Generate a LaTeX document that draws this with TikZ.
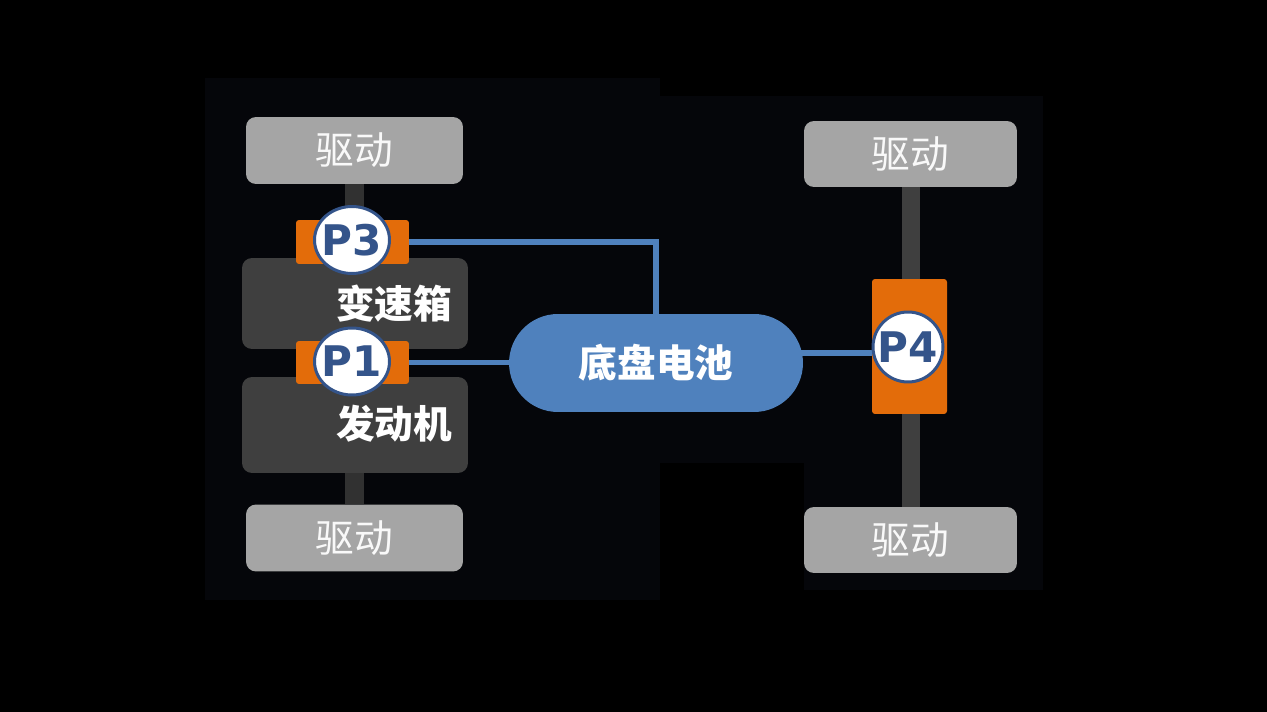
\documentclass[tikz,border=0pt]{standalone}
\usepackage{fontspec}
\newfontfamily\cjk{Noto Sans CJK SC}
\newfontfamily\pfont{DejaVu Sans}
\usepackage{tikz}
\usetikzlibrary{backgrounds,shapes.geometric}

\definecolor{bgpanel}{HTML}{05060A}
\definecolor{drivegray}{HTML}{A5A5A5}
\definecolor{unitgray}{HTML}{3F3F3F}
\definecolor{shaftgray}{HTML}{313131}
\definecolor{motororange}{HTML}{E36C0A}
\definecolor{battblue}{HTML}{4F81BD}
\definecolor{pblue}{HTML}{34548A}

\pgfdeclarelayer{panel}
\pgfsetlayers{panel,background,main}

\begin{document}
\begin{tikzpicture}[
    x=0.02cm, y=-0.02cm,
    drivebox/.style={fill=drivegray, rounded corners=0.2cm, minimum width=4.34cm,
        minimum height=1.34cm, text=white!95!gray, font=\cjk\fontsize{22}{26}\selectfont},
    unitbox/.style={fill=unitgray, rounded corners=0.2cm, minimum width=4.52cm},
    unitlabel/.style={text=white, font=\cjk\bfseries\fontsize{22}{26}\selectfont},
    motorbox/.style={fill=motororange, rounded corners=0.06cm},
    pmark/.style={ellipse, fill=white, draw=pblue, line width=1.7pt, inner sep=-8pt,
        text=pblue, font=\pfont\bfseries\fontsize{24}{28}\selectfont},
    link/.style={draw=battblue, line width=3.3pt},
    shaft/.style={draw=shaftgray, line width=0.38cm}
]
\useasboundingbox (0,0) rectangle (1267,712);
\begin{pgfonlayer}{panel}
\fill[black] (0,0) rectangle (1267,712);
\fill[bgpanel] (205,78) rectangle (660,600);
\fill[bgpanel] (660,96) rectangle (804,463);
\fill[bgpanel] (804,96) rectangle (1043,590);
\end{pgfonlayer}

% left axle
\node[drivebox] (driveLT) at (354.5,150.5) {驱动};
\node[drivebox] (driveLB) at (354.5,538) {驱动};
\node[unitbox, minimum height=1.82cm] (gearbox) at (355,303.5) {};
\node[unitbox, minimum height=1.92cm] (engine) at (355,425) {};
\node[unitlabel] (gearboxText) at (394,304) {变速箱};
\node[unitlabel] (engineText) at (394,424) {发动机};
\node[motorbox, minimum width=2.26cm, minimum height=0.88cm] (p3box) at (352.5,242) {};
\node[pmark, minimum width=1.5cm, minimum height=1.34cm] (p3) at (352,240) {P3};
\node[motorbox, minimum width=2.26cm, minimum height=0.86cm] (p1box) at (352.5,362.5) {};
\node[pmark, minimum width=1.5cm, minimum height=1.34cm] (p1) at (352,361.5) {P1};

% right axle
\node[drivebox, minimum width=4.26cm, minimum height=1.32cm] (driveRT) at (910.5,154) {驱动};
\node[drivebox, minimum width=4.26cm, minimum height=1.32cm] (driveRB) at (910.5,540) {驱动};
\node[motorbox, minimum width=1.5cm, minimum height=2.7cm] (p4box) at (909.5,346.5) {};
\node[pmark, minimum width=1.4cm, minimum height=1.4cm] (p4) at (908,347) {P4};

% battery
\node[fill=battblue, rounded corners=0.98cm, minimum width=5.88cm, minimum height=1.96cm,
    text=white, font=\cjk\bfseries\fontsize{22}{26}\selectfont] (battery) at (656,363) {底盘电池};
\coordinate (p4in) at (872,353);

\begin{scope}[on background layer]
\draw[shaft] (driveLT.south) -- (driveLB.north);
\draw[shaft, line width=0.36cm, draw=unitgray] (driveRT.south) -- (driveRB.north);
\draw[link] (p3box.east) -| (battery.north);
\draw[link] (p1box.east) -- (p1box.east -| battery.west);
\draw[link] (p4in -| battery.center) -- (p4in);
\end{scope}
\end{tikzpicture}
\end{document}
